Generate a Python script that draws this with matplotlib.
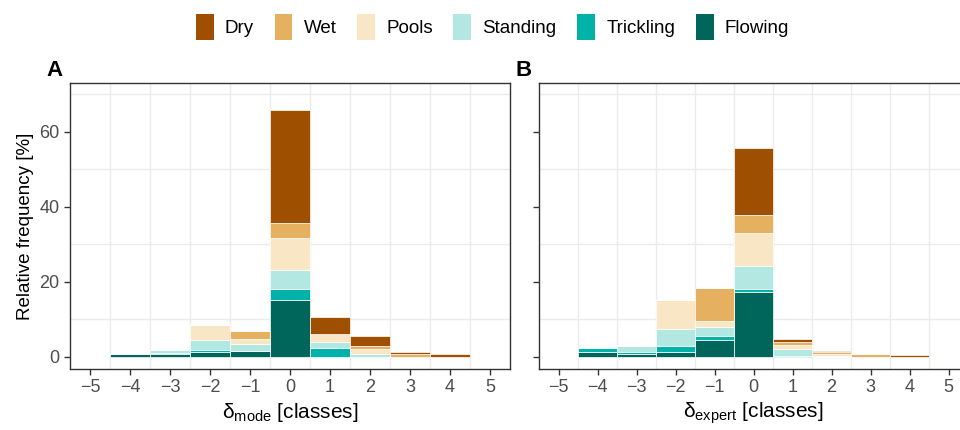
import numpy as np
import matplotlib
matplotlib.use('Agg')
import matplotlib.pyplot as plt
from matplotlib.patches import Patch

plt.rcParams['font.family'] = ['Liberation Sans', 'DejaVu Sans']
plt.rcParams['mathtext.fontset'] = 'custom'
plt.rcParams['mathtext.rm'] = 'Liberation Sans'

classes = ['Dry', 'Wet', 'Pools', 'Standing', 'Trickling', 'Flowing']
colors = ['#9E4F00', '#E5B160', '#F9E6C4', '#B3E8E2', '#00B2A8', '#00665C']

deltas = [-4, -3, -2, -1, 0, 1, 2, 3, 4]

# relative frequency [%] per class, stacked from Flowing (bottom) to Dry (top)
mode_freq = {
    'Flowing':   [0.9, 0.9, 1.4, 1.6, 15.1, 0.0, 0.0, 0.0, 0.0],
    'Trickling': [0.0, 0.2, 0.4, 0.0, 2.9, 2.3, 0.0, 0.0, 0.0],
    'Standing':  [0.0, 0.8, 2.6, 1.9, 5.3, 1.7, 0.8, 0.0, 0.0],
    'Pools':     [0.0, 0.0, 4.2, 1.3, 8.4, 2.2, 1.3, 0.0, 0.0],
    'Wet':       [0.0, 0.0, 0.0, 2.0, 4.1, 0.0, 0.9, 0.9, 0.0],
    'Dry':       [0.0, 0.0, 0.0, 0.0, 30.0, 4.5, 2.7, 0.4, 0.7],
}

expert_freq = {
    'Flowing':   [1.2, 0.9, 1.2, 4.4, 17.2, 0.0, 0.0, 0.0, 0.0],
    'Trickling': [1.1, 0.5, 1.7, 1.3, 0.8, 0.3, 0.0, 0.0, 0.0],
    'Standing':  [0.0, 1.5, 4.5, 2.2, 6.3, 1.7, 0.3, 0.0, 0.0],
    'Pools':     [0.0, 0.0, 7.7, 1.6, 8.7, 1.1, 0.4, 0.0, 0.0],
    'Wet':       [0.0, 0.0, 0.0, 8.9, 4.9, 0.8, 0.5, 0.7, 0.0],
    'Dry':       [0.0, 0.0, 0.0, 0.0, 17.9, 0.8, 0.4, 0.0, 0.4],
}

fig = plt.figure(figsize=(9.6, 4.3), dpi=100)
ax_a = fig.add_axes([0.0729, 0.1419, 0.4583, 0.665])
ax_b = fig.add_axes([0.5615, 0.1419, 0.447, 0.665])


def draw_panel(ax, freq, xlabel, show_ylabels):
    bottom = np.zeros(len(deltas))
    for name in reversed(classes):
        vals = np.array(freq[name])
        ax.bar(deltas, vals, width=1.0, bottom=bottom,
               color=colors[classes.index(name)],
               edgecolor='white', linewidth=0.5, zorder=3)
        bottom += vals

    ax.set_xlim(-5.5, 5.5)
    ax.set_ylim(-3.2, 73)
    ax.set_xticks(range(-5, 6))
    ax.set_yticks([0, 20, 40, 60])
    ax.set_xticks(np.arange(-4.5, 5.0, 1.0), minor=True)
    ax.set_yticks([10, 30, 50, 70], minor=True)
    ax.grid(which='minor', color='#EBEBEB', linewidth=1.0, zorder=0)
    ax.tick_params(which='minor', length=0)
    ax.tick_params(which='major', length=4, width=1, color='#333333',
                   labelsize=13, labelcolor='#4D4D4D')
    if not show_ylabels:
        ax.set_yticklabels([])
    for sp in ax.spines.values():
        sp.set_color('#333333')
        sp.set_linewidth(1.0)
    ax.set_xlabel(xlabel, fontsize=15, labelpad=3)


draw_panel(ax_a, mode_freq, r'δ$_{\mathregular{mode}}$ [classes]', True)
draw_panel(ax_b, expert_freq, r'δ$_{\mathregular{expert}}$ [classes]', False)
ax_a.set_ylabel('Relative frequency [%]', fontsize=13.5, labelpad=4)

fig.text(0.057, 0.837, 'A', fontsize=16, fontweight='bold', ha='center', va='center')
fig.text(0.545, 0.837, 'B', fontsize=16, fontweight='bold', ha='center', va='center')

handles = [Patch(facecolor=c, edgecolor='none', label=n) for n, c in zip(classes, colors)]
fig.legend(handles=handles, loc='center', bbox_to_anchor=(0.513, 0.937), ncol=6,
           frameon=False, fontsize=13.5, handlelength=0.95, handleheight=1.7,
           handletextpad=0.6, columnspacing=1.1)

fig.savefig('out.png', dpi=100)
